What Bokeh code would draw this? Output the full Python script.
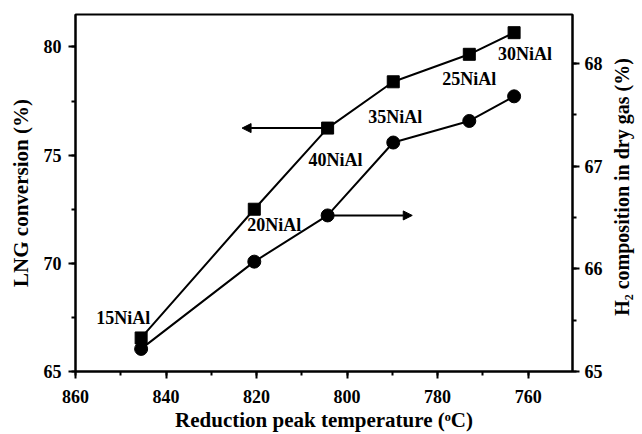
import math
from bokeh.plotting import figure
from bokeh.models import (Range1d, LinearAxis, SingleIntervalTicker, Arrow,
                          NormalHead, ColumnDataSource, Label)
from bokeh.core.properties import value
from bokeh.embed import file_html
from bokeh.resources import INLINE

# ---------------- data ----------------
catalysts = ["15NiAl", "20NiAl", "40NiAl", "35NiAl", "25NiAl", "30NiAl"]
peak_temp = [845.5, 820.5, 804.3, 789.8, 773.0, 763.1]          # reduction peak temperature (oC)
lng_conversion = [66.55, 72.50, 76.25, 78.39, 79.66, 80.66]     # LNG conversion (%)
h2_composition = [65.22, 66.07, 66.52, 67.23, 67.44, 67.68]     # H2 in dry gas (%)

x_ticks = [860, 840, 820, 800, 780, 760]
left_ticks = [65, 70, 75, 80]
right_ticks = [65, 66, 67, 68]

x_title = "Reduction peak temperature (ᵒC)"
left_title = "LNG conversion (%)"
right_title = "H₂ composition in dry gas (%)"

# arrow targets (data space): left arrow -> LNG axis, right arrow -> H2 axis
arrow_left_end_x = 823.2
arrow_right_end_x = 785.6

# label offsets (screen px) relative to the square markers
label_dx = [-18, 20, 8, 2, 0, 11]
label_dy = [-20, 16, 32, 35, 25, 21]

FONT = "Liberation Serif"

p = figure(width=642, height=434, output_backend="svg", toolbar_location=None,
           x_range=Range1d(860, 750.2), y_range=Range1d(65, 81.5),
           min_border_left=75, min_border_right=70, min_border_top=14,
           min_border_bottom=61)
p.extra_y_ranges = {"h2": Range1d(65, 68.477)}

p.grid.visible = False
p.outline_line_color = "black"
p.outline_line_width = 2
p.background_fill_color = "white"
p.border_fill_color = "white"

def style_axis(ax, interval):
    ax.ticker = SingleIntervalTicker(interval=interval, num_minor_ticks=2)
    ax.axis_line_width = 2
    ax.axis_line_color = "black"
    ax.major_tick_line_width = 2
    ax.minor_tick_line_width = 2
    ax.major_tick_in = 0
    ax.major_tick_out = 7
    ax.minor_tick_in = 0
    ax.minor_tick_out = 4
    ax.major_label_text_font = FONT
    ax.major_label_text_font_style = "bold"
    ax.major_label_text_font_size = "18px"
    ax.major_label_text_color = "black"
    ax.axis_label_text_font = FONT
    ax.axis_label_text_font_style = "bold"
    ax.axis_label_text_font_size = "21px"
    ax.axis_label_text_color = "black"

xa = p.xaxis[0]
style_axis(xa, 20)
xa.axis_label = x_title
xa.major_label_standoff = 11
xa.axis_label_standoff = 2

ya = p.yaxis[0]
style_axis(ya, 5)
ya.axis_label = left_title
ya.major_label_standoff = 7
ya.axis_label_standoff = 8

ra = LinearAxis(y_range_name="h2")
style_axis(ra, 1)
ra.major_label_standoff = 5
p.add_layout(ra, "right")

src = ColumnDataSource(dict(x=peak_temp, lng=lng_conversion, h2=h2_composition,
                            name=catalysts, dx=label_dx, dy=label_dy))

p.line("x", "lng", source=src, line_color="black", line_width=2)
p.scatter("x", "lng", source=src, marker="square", size=12,
          fill_color="black", line_color="black")

p.line("x", "h2", source=src, line_color="black", line_width=2, y_range_name="h2")
p.scatter("x", "h2", source=src, marker="circle", size=13,
          fill_color="black", line_color="black", y_range_name="h2")

p.text("x", "lng", text="name", source=src, x_offset="dx", y_offset="dy",
       text_font=value(FONT), text_font_style="bold", text_font_size="18px",
       text_align="center", text_baseline="middle", text_color="black")

i40 = catalysts.index("40NiAl")
p.add_layout(Arrow(end=NormalHead(size=9, fill_color="black", line_color="black"),
                   x_start=peak_temp[i40], y_start=lng_conversion[i40],
                   x_end=arrow_left_end_x, y_end=lng_conversion[i40],
                   line_width=2, line_color="black"))
p.add_layout(Arrow(end=NormalHead(size=9, fill_color="black", line_color="black"),
                   x_start=peak_temp[i40], y_start=h2_composition[i40],
                   x_end=arrow_right_end_x, y_end=h2_composition[i40],
                   line_width=2, line_color="black", y_range_name="h2"))

# right axis title, reading bottom-to-top, in its own side panel
p.add_layout(Label(x=16, y=184.5, x_units="screen", y_units="screen",
                   text=right_title, angle=math.pi / 2,
                   text_align="center", text_baseline="alphabetic",
                   text_font=FONT, text_font_style="bold",
                   text_font_size="20px", text_color="black"), "right")

open("out.html", "w").write(file_html(p, INLINE))
